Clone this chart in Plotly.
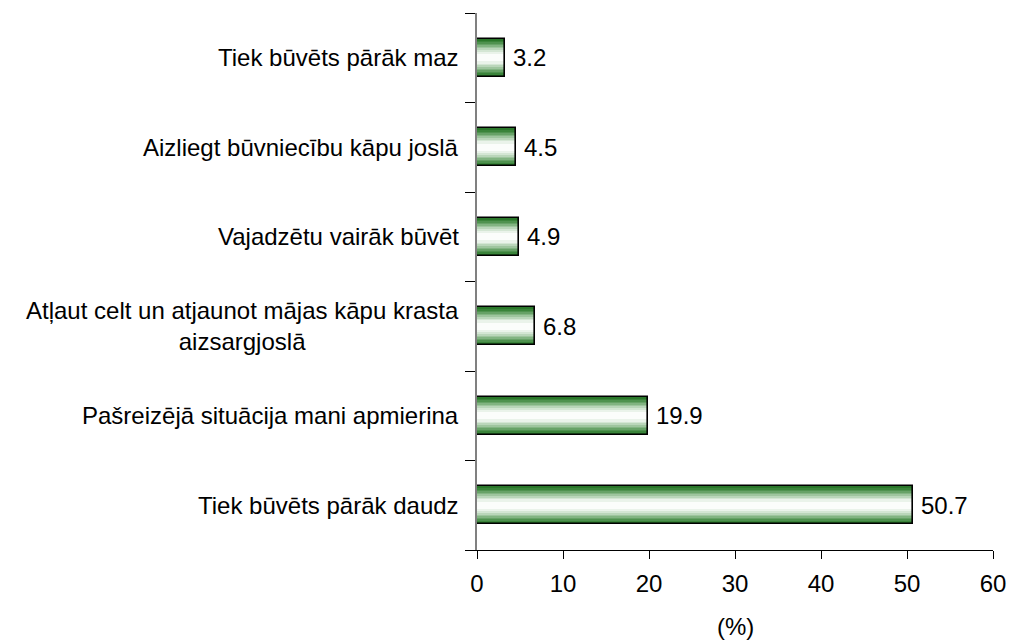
import plotly.graph_objects as go

categories = [
    "Tiek būvēts pārāk maz",
    "Aizliegt būvniecību kāpu joslā",
    "Vajadzētu vairāk būvēt",
    "Atļaut celt un atjaunot mājas kāpu krasta<br>aizsargjoslā",
    "Pašreizējā situācija mani apmierina",
    "Tiek būvēts pārāk daudz",
]
values = [3.2, 4.5, 4.9, 6.8, 19.9, 50.7]
x_ticks = [0, 10, 20, 30, 40, 50, 60]

FONT = "Liberation Sans, Arial, sans-serif"
FS = 24

# gradient layers (outer -> inner)
layer_widths = [0.42, 0.385, 0.35, 0.315, 0.28, 0.245, 0.21, 0.17, 0.13, 0.08]
layer_colors = ["#2a772a", "#3a843a", "#4f924f", "#67a267", "#82b482",
                "#9ec59e", "#bad6ba", "#d4e6d4", "#eaf3ea", "#fbfdfb"]

fig = go.Figure()
for w, c in zip(layer_widths, layer_colors):
    fig.add_trace(go.Bar(
        x=values, y=list(range(len(categories))), orientation="h",
        width=w, marker=dict(color=c, line=dict(width=0)),
        hoverinfo="skip", showlegend=False,
    ))
# black outline on top
fig.add_trace(go.Bar(
    x=values, y=list(range(len(categories))), orientation="h",
    width=layer_widths[0],
    marker=dict(color="rgba(0,0,0,0)", line=dict(color="black", width=1.6)),
    hoverinfo="skip", showlegend=False,
))

annotations = []
for i, (cat, v) in enumerate(zip(categories, values)):
    annotations.append(dict(
        x=v, y=i, xref="x", yref="y", text=f"{v:.1f}", showarrow=False,
        xanchor="left", yanchor="middle", xshift=6,
        font=dict(family=FONT, size=FS, color="black"),
    ))
    annotations.append(dict(
        x=0, y=i, xref="paper", yref="y", text=cat, showarrow=False,
        xanchor="right", yanchor="middle", xshift=-16, align="center",
        font=dict(family=FONT, size=FS, color="black"),
    ))
annotations.append(dict(
    x=0.5, y=-0.143, xref="paper", yref="paper", text="(%)", showarrow=False,
    xanchor="center", yanchor="middle",
    font=dict(family=FONT, size=FS, color="black"),
))

fig.update_layout(
    width=1009, height=643,
    margin=dict(l=477, r=16, t=13, b=93, autoexpand=False),
    paper_bgcolor="white", plot_bgcolor="white",
    barmode="overlay", bargap=0,
    annotations=annotations,
    xaxis=dict(
        range=[0, 60], tickvals=x_ticks, ticktext=[str(t) for t in x_ticks],
        showgrid=False, zeroline=False, automargin=False,
        showline=True, linecolor="black", linewidth=1.2,
        ticks="outside", ticklen=8, tickcolor="black", tickwidth=1.2,
        ticklabelstandoff=4,
        tickfont=dict(family=FONT, size=FS, color="black"),
    ),
    yaxis=dict(
        type="linear", range=[5.5, -0.5], automargin=False,
        tickvals=[-0.5, 0.5, 1.5, 2.5, 3.5, 4.5, 5.5],
        showticklabels=False, showgrid=False, zeroline=False,
        showline=True, linecolor="#808080", linewidth=1.5,
        ticks="outside", ticklen=10, tickcolor="black", tickwidth=1.2,
    ),
)

fig.write_html("out.html", config={"displayModeBar": False},
               post_script="document.body.style.margin='0';document.body.style.overflow='hidden';")
